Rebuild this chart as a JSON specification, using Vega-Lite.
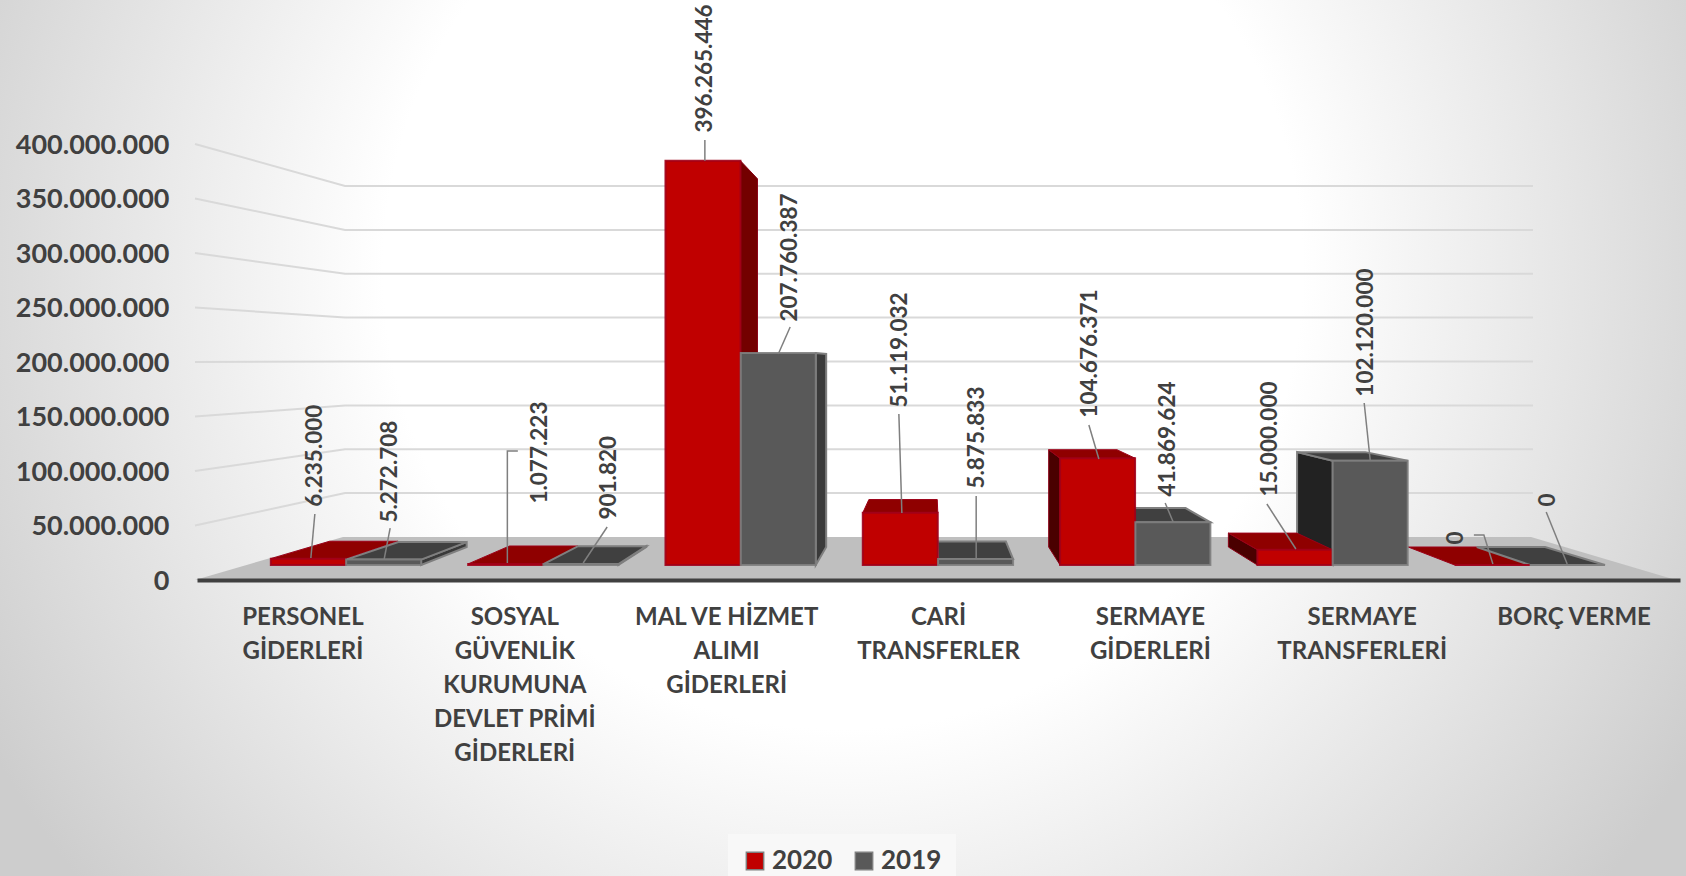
{
"$schema":"https://vega.github.io/schema/vega-lite/v6.json",
"width":1686,"height":876,"padding":0,"autosize":{"type":"none"},
"background":"#ffffff",
"view":{"stroke":null,"fill":{"gradient":"radial","x1":0.5,"y1":0.4,"r1":0,"x2":0.5,"y2":0.4,"r2":0.58,"stops":[{"offset":0,"color":"#ffffff"},{"offset":0.47,"color":"#ffffff"},{"offset":1,"color":"#cdcdcd"}]}},
"config":{"locale":{"number":{"decimal":",","thousands":".","grouping":[3],"currency":["","₺"]}}},
"datasets":{
"giderler":[
{"id":"P20","kategori":"PERSONEL GİDERLERİ","seri":"2020","tutar":6235000},
{"id":"P19","kategori":"PERSONEL GİDERLERİ","seri":"2019","tutar":5272708},
{"id":"S20","kategori":"SOSYAL GÜVENLİK KURUMUNA DEVLET PRİMİ GİDERLERİ","seri":"2020","tutar":1077223},
{"id":"S19","kategori":"SOSYAL GÜVENLİK KURUMUNA DEVLET PRİMİ GİDERLERİ","seri":"2019","tutar":901820},
{"id":"M20","kategori":"MAL VE HİZMET ALIMI GİDERLERİ","seri":"2020","tutar":396265446},
{"id":"M19","kategori":"MAL VE HİZMET ALIMI GİDERLERİ","seri":"2019","tutar":207760387},
{"id":"C20","kategori":"CARİ TRANSFERLER","seri":"2020","tutar":51119032},
{"id":"C19","kategori":"CARİ TRANSFERLER","seri":"2019","tutar":5875833},
{"id":"G20","kategori":"SERMAYE GİDERLERİ","seri":"2020","tutar":104676371},
{"id":"G19","kategori":"SERMAYE GİDERLERİ","seri":"2019","tutar":41869624},
{"id":"T20","kategori":"SERMAYE TRANSFERLERİ","seri":"2020","tutar":15000000},
{"id":"T19","kategori":"SERMAYE TRANSFERLERİ","seri":"2019","tutar":102120000},
{"id":"B20","kategori":"BORÇ VERME","seri":"2020","tutar":0},
{"id":"B19","kategori":"BORÇ VERME","seri":"2019","tutar":0}
],
"eksen":[{"deger":50000000},{"deger":100000000},{"deger":150000000},{"deger":200000000},{"deger":250000000},{"deger":300000000},{"deger":350000000},{"deger":400000000}],
"taban":[{"deger":0}]
},
"resolve":{"scale":{"x":"independent","y":"independent"},"axis":{"x":"independent","y":"independent"}},
"layer":[
{"encoding":{"y":{"field":"deger","type":"quantitative","scale":{"domain":[-271559633,532110092],"zero":false,"nice":false},"axis":{"orient":"left","offset":-169,"values":[0,50000000,100000000,150000000,200000000,250000000,300000000,350000000,400000000],"format":",d","domain":false,"ticks":false,"grid":false,"title":null,"labelPadding":0,"labelOffset":1,"labelFont":"Lato","labelFontWeight":"bold","labelFontSize":27,"labelColor":"#404040","labelOverlap":false,"labelBound":false,"labelFlush":false}}},
"layer":[
{"data":{"name":"taban"},"mark":{"type":"point","filled":true,"fill":"#bfbfbf","stroke":null,"opacity":1,"size":4,"shape":"M0,0L148,-43L1336,-43L1481,0Z"},"encoding":{"x":{"value":195}}},
{"data":{"name":"eksen"},"mark":{"type":"point","filled":false,"stroke":"#d9d9d9","strokeWidth":2,"opacity":1,"size":4,"shape":{"expr":"{'50000000':'M0,0L150,-32.4L1338,-32.4','100000000':'M0,0L150,-21.7L1338,-21.7','150000000':'M0,0L150,-11.1L1338,-11.1','200000000':'M0,0L150,-0.5L1338,-0.5','250000000':'M0,0L150,10.1L1338,10.1','300000000':'M0,0L150,20.8L1338,20.8','350000000':'M0,0L150,31.4L1338,31.4','400000000':'M0,0L150,42L1338,42'}[datum.deger+'']"}},"encoding":{"x":{"value":195}}},
{"data":{"name":"giderler"},"mark":{"type":"rule","opacity":0},"encoding":{"y":{"value":0},"y2":{"value":1},"x":{"field":"kategori","type":"nominal","sort":null,"scale":{"type":"band","domain":["PERSONEL GİDERLERİ","SOSYAL GÜVENLİK KURUMUNA DEVLET PRİMİ GİDERLERİ","MAL VE HİZMET ALIMI GİDERLERİ","CARİ TRANSFERLER","SERMAYE GİDERLERİ","SERMAYE TRANSFERLERİ","BORÇ VERME"],"range":[197,1680],"paddingInner":0,"paddingOuter":0},"axis":{"orient":"bottom","offset":-296,"zindex":1,"title":null,"ticks":false,"labelAngle":0,"labelPadding":25,"labelBaseline":"top","labelFont":"Lato","labelFontWeight":"bold","labelFontSize":24,"labelLineHeight":34,"labelColor":"#404040","labelLimit":0,"labelOverlap":false,"labelBound":false,"labelFlush":false,"domainColor":"#404040","domainWidth":4,"labelExpr":"{'PERSONEL GİDERLERİ':['PERSONEL','GİDERLERİ'],'SOSYAL GÜVENLİK KURUMUNA DEVLET PRİMİ GİDERLERİ':['SOSYAL','GÜVENLİK','KURUMUNA','DEVLET PRİMİ','GİDERLERİ'],'MAL VE HİZMET ALIMI GİDERLERİ':['MAL VE HİZMET','ALIMI','GİDERLERİ'],'CARİ TRANSFERLER':['CARİ','TRANSFERLER'],'SERMAYE GİDERLERİ':['SERMAYE','GİDERLERİ'],'SERMAYE TRANSFERLERİ':['SERMAYE','TRANSFERLERİ'],'BORÇ VERME':['BORÇ VERME']}[datum.value]"}}}}
]},
{"data":{"name":"giderler"},
"encoding":{
"x":{"field":"kategori","type":"nominal","sort":null,"axis":null,"scale":{"type":"band","domain":["PERSONEL GİDERLERİ","SOSYAL GÜVENLİK KURUMUNA DEVLET PRİMİ GİDERLERİ","MAL VE HİZMET ALIMI GİDERLERİ","CARİ TRANSFERLER","SERMAYE GİDERLERİ","SERMAYE TRANSFERLERİ","BORÇ VERME"],"range":[247.35,1628.5],"paddingInner":0,"paddingOuter":0}},
"xOffset":{"field":"seri","type":"nominal","scale":{"domain":["2020","2019"],"paddingInner":0,"paddingOuter":0.31}},
"y":{"field":"tutar","type":"quantitative","axis":null,"scale":{"domain":[-304901961,553921569],"zero":false,"nice":false}}
},
"layer":[
{"transform":[{"filter":{"field":"id","oneOf":["P19","S19","M20","M19","G20","T20","T19"]}}],
"mark":{"type":"point","filled":true,"opacity":1,"size":4,"shape":{"expr":"{'P19':'M37.5,0L83,-17.5L83,-12.6L37.5,5.4Z','S19':'M37.5,0L65.4,-17.9L65.4,-17.1L37.5,0.9Z','M20':'M37.5,0L54.5,18L54.5,386.2L37.5,404.2Z','M19':'M37.5,0L47.9,0.9L47.9,193.9L37.5,211.9Z','G20':'M-37.5,0L-48.9,-8.5L-48.9,88.8L-37.5,106.8Z','T20':'M-37.5,0L-66.5,-16.6L-66.5,-2.7L-37.5,15.3Z','T19':'M-37.5,0L-73.1,-8.7L-73.1,86.2L-37.5,104.2Z'}[datum.id]"}},
"encoding":{"fill":{"condition":[{"test":"datum.id=='M20'","value":"#730000"},{"test":"datum.id=='G20'||datum.id=='T20'","value":"#4a0000"},{"test":"datum.id=='T19'","value":"#222222"}],"value":"#3a3a3a"},"stroke":{"condition":{"test":"datum.seri=='2020'","value":"#8a0015"},"value":"#7f7f7f"},"strokeWidth":{"condition":{"test":"datum.seri=='2020'","value":1},"value":2}}},
{"transform":[{"filter":{"field":"id","oneOf":["P20","P19","S20","S19","C20","C19","G20","G19","T20","T19","B20","B19"]}}],
"mark":{"type":"point","filled":true,"opacity":1,"size":4,"shape":{"expr":"{'P20':'M-37.5,0L37.5,0L89.7,-17.4L21.3,-17.4Z','P19':'M-37.5,0L37.5,0L83,-17.5L14.7,-17.5Z','S20':'M-37.5,0L37.5,0L72.1,-17.9L3.8,-17.9Z','S19':'M-37.5,0L37.5,0L65.4,-17.9L-2.9,-17.9Z','C20':'M-37.5,0L37.5,0L37,-13.3L-31.4,-13.3Z','C19':'M-37.5,0L37.5,0L30.3,-17.4L-38,-17.4Z','G20':'M-37.5,0L37.5,0L19.4,-8.5L-48.9,-8.5Z','G19':'M-37.5,0L37.5,0L12.7,-14.2L-55.6,-14.2Z','T20':'M-37.5,0L37.5,0L1.9,-16.6L-66.5,-16.6Z','T19':'M-37.5,0L37.5,0L-4.8,-8.7L-73.1,-8.7Z','B20':'M-37.5,0L37.5,0L-15.7,-18L-84,-18Z','B19':'M-37.5,0L37.5,0L-22.4,-18L-90.7,-18Z'}[datum.id]"}},
"encoding":{"fill":{"condition":{"test":"datum.seri=='2020'","value":"#8f0000"},"value":"#404040"},"stroke":{"condition":{"test":"datum.seri=='2020'","value":"#9c0018"},"value":"#7f7f7f"},"strokeWidth":{"condition":{"test":"datum.seri=='2020'","value":1},"value":2}}},
{"mark":{"type":"bar","width":75,"strokeWidth":2,"stroke":"#7f7f7f","strokeOpacity":0.9},
"encoding":{"color":{"field":"seri","type":"nominal","scale":{"domain":["2020","2019"],"range":["#c00000","#595959"]},"legend":{"orient":"none","legendX":728,"legendY":834,"direction":"horizontal","title":null,"fillColor":"#f8f8f8","padding":14,"symbolType":"square","symbolSize":300,"symbolStrokeWidth":1.5,"labelFont":"Lato","labelFontWeight":"bold","labelFontSize":26,"labelColor":"#404040","columnPadding":18,"labelOffset":4}},
"stroke":{"condition":{"test":"datum.seri=='2020'","value":"#a00018"},"value":"#7f7f7f"}}},
{"mark":{"type":"point","filled":false,"stroke":"#7f7f7f","strokeWidth":1.5,"opacity":1,"size":4,"shape":{"expr":"{'P20':'M6.5,-44.6L2.5,-0.6','P19':'M6.5,-31.6L0.5,-0.6','S20':'M12.2,-112.9L1.7,-112.9L1.7,-0.9','S19':'M26.2,-37.1L2.2,-1.1','M20':'M1.9,-20.8L1.9,0','M19':'M11.9,-26.1L0,0.9','C20':'M-1.4,-98.9L1.6,0.1','C19':'M0.6,-63L0.6,0','G20':'M-8.7,-33.2L1.3,0.8','G19':'M-7.7,-19.3L0.3,-0.3','T20':'M-28,-45.7L1,-0.7','T19':'M-6,-57.8L0,-0.8','B20':'M-18.3,-30L-8.3,-30L0.7,-1','B19':'M-21.3,-53L-0.3,-1'}[datum.id]"}}},
{"mark":{"type":"text","angle":270,"align":"left","baseline":"middle","font":"Lato","fontWeight":"bold","fontSize":22.5,"color":"#404040",
"dx":{"expr":"{'P20':52,'P19':37,'S20':60.3,'S19':44.5,'M20':28.2,'M19':31.5,'C20':105.3,'C19':70.4,'G20':40.6,'G19':25.7,'T20':53.1,'T19':64.2,'B20':20.4,'B19':58.4}[datum.id]"},
"dy":{"expr":"{'P20':6.5,'P19':6.5,'S20':34.2,'S19':28.2,'M20':1.9,'M19':11.9,'C20':-0.4,'C19':1.6,'G20':-7.7,'G19':-4.7,'T20':-25,'T19':-4,'B20':-36.3,'B19':-19.3}[datum.id]"}},
"encoding":{"text":{"field":"tutar","type":"quantitative","format":",d"}}}
]}
]
}
